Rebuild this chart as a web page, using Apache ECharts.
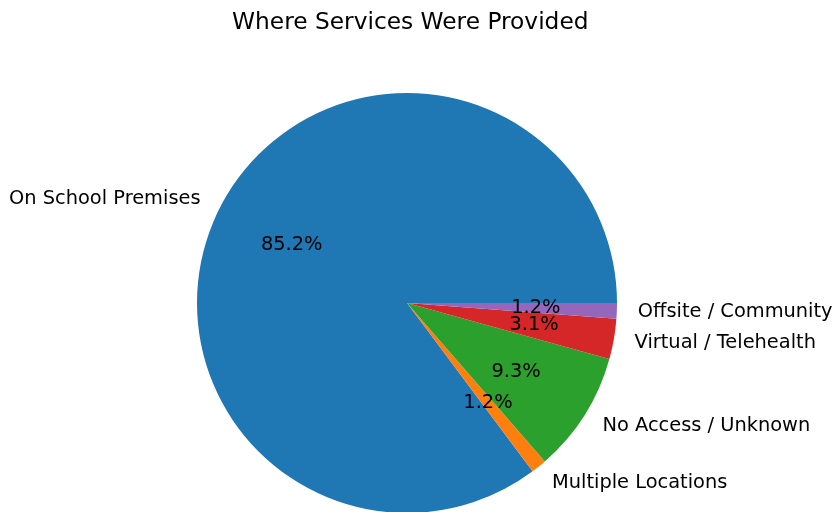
<!DOCTYPE html>
<html><head><meta charset="utf-8">
<script src="https://cdn.jsdelivr.net/npm/echarts@6/dist/echarts.min.js"></script>
<style>html,body{margin:0;padding:0;background:#fff}#c{width:836px;height:512px}</style>
</head><body><div id="c"></div>
<script>
const categories = ['On School Premises', 'Multiple Locations', 'No Access / Unknown', 'Virtual / Telehealth', 'Offsite / Community'];
const values = [85.2, 1.2, 9.3, 3.1, 1.2];
const colors = ['#1f77b4', '#ff7f0e', '#2ca02c', '#d62728', '#9467bd'];

const R = 210, CX = 407, CY = 303;
const font = 'DejaVu Sans';
const data = categories.map((c, i) => ({ name: c, value: values[i], itemStyle: { color: colors[i] } }));
const chart = echarts.init(document.getElementById('c'), null, { renderer: 'canvas' });
chart.setOption({
  animation: false,
  title: { text: 'Where Services Were Provided', left: 227, top: 6,
    textStyle: { fontFamily: font, fontSize: 23.3, fontWeight: 'normal', color: '#000' } },
  series: [
    {
      type: 'pie', center: [CX, CY], radius: [0, R], startAngle: 0, clockwise: false,
      avoidLabelOverlap: false, silent: true, minAngle: 0, minShowLabelAngle: 0,
      itemStyle: { borderWidth: 0 },
      label: { show: true, position: 'outer', alignTo: 'none', distanceToLabelLine: 0,
        fontFamily: font, fontSize: 19.4, color: '#000', formatter: '{b}', padding: [9, 0, 0, 0] },
      labelLine: { show: false, length: R * 0.1, length2: 0 },
      labelLayout: { hideOverlap: false },
      emphasis: { disabled: true },
      data: data
    },
    {
      type: 'pie', center: [CX, CY], radius: [R * 0.2, R], startAngle: 0, clockwise: false,
      avoidLabelOverlap: false, silent: true, minShowLabelAngle: 0,
      itemStyle: { color: 'rgba(0,0,0,0)', borderWidth: 0 },
      label: { show: true, position: 'inside', fontFamily: font, fontSize: 19.4, color: '#000',
        padding: [8, 0, 0, 0], formatter: p => p.value.toFixed(1) + '%' },
      labelLine: { show: false },
      labelLayout: { hideOverlap: false },
      emphasis: { disabled: true },
      data: categories.map((c, i) => ({ name: c, value: values[i] }))
    }
  ]
});
</script></body></html>
